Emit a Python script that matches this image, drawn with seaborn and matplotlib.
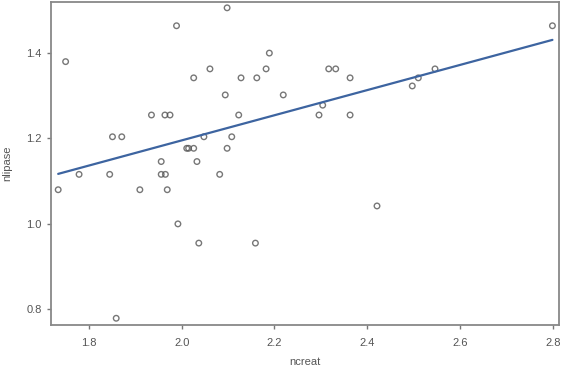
import numpy as np
import pandas as pd
import matplotlib
matplotlib.use("Agg")
import matplotlib.pyplot as plt
import seaborn as sns

ncreat = [1.734, 1.750, 1.779, 1.845, 1.851, 1.859, 1.871, 1.910, 1.935, 1.956,
          1.956, 1.964, 1.965, 1.969, 1.975, 1.989, 1.992, 2.011, 2.015, 2.026,
          2.026, 2.033, 2.037, 2.048, 2.061, 2.082, 2.094, 2.098, 2.098, 2.108,
          2.123, 2.128, 2.159, 2.162, 2.182, 2.189, 2.219, 2.296, 2.304, 2.317,
          2.332, 2.363, 2.363, 2.421, 2.497, 2.510, 2.546, 2.799]
nlipase = [1.080, 1.380, 1.116, 1.116, 1.204, 0.779, 1.204, 1.080, 1.255, 1.146,
           1.116, 1.255, 1.116, 1.080, 1.255, 1.464, 1.000, 1.177, 1.177, 1.177,
           1.342, 1.146, 0.955, 1.204, 1.363, 1.116, 1.302, 1.506, 1.177, 1.204,
           1.255, 1.342, 0.955, 1.342, 1.363, 1.400, 1.302, 1.255, 1.278, 1.363,
           1.363, 1.342, 1.255, 1.042, 1.323, 1.342, 1.363, 1.464]
xticks = [1.8, 2.0, 2.2, 2.4, 2.6, 2.8]
yticks = [0.8, 1.0, 1.2, 1.4]

data = pd.DataFrame({"ncreat": ncreat, "nlipase": nlipase})

sns.set_style("white")
plt.rcParams['font.family'] = ['Liberation Sans', 'DejaVu Sans']

fig = plt.figure(figsize=(5.64, 3.69), dpi=100)
ax = fig.add_axes([0.090, 0.119, 0.901, 0.876])

sns.regplot(data=data, x="ncreat", y="nlipase", ax=ax, ci=None, truncate=True,
            scatter_kws=dict(s=16, facecolors="none", edgecolors="#555555", linewidths=1.0),
            line_kws=dict(color="#3d64a0", lw=1.6))

ax.set_xlim(1.718, 2.813)
ax.set_ylim(0.763, 1.52)
ax.set_xticks(xticks)
ax.set_yticks(yticks)
ax.set_xticklabels([f"{t:.1f}" for t in xticks])
ax.set_yticklabels([f"{t:.1f}" for t in yticks])
ax.tick_params(axis="both", direction="out", length=3, width=1, color="#777777",
               labelsize=8, labelcolor="#555555", bottom=True, left=True)
ax.tick_params(axis="x", pad=6)
ax.set_xlabel("ncreat", fontsize=8, color="#555555", labelpad=7)
ax.set_ylabel("nlipase", fontsize=8, color="#555555", labelpad=10)
for s in ax.spines.values():
    s.set_color("#888888")
    s.set_linewidth(1.3)

fig.savefig("out.png", dpi=100)
